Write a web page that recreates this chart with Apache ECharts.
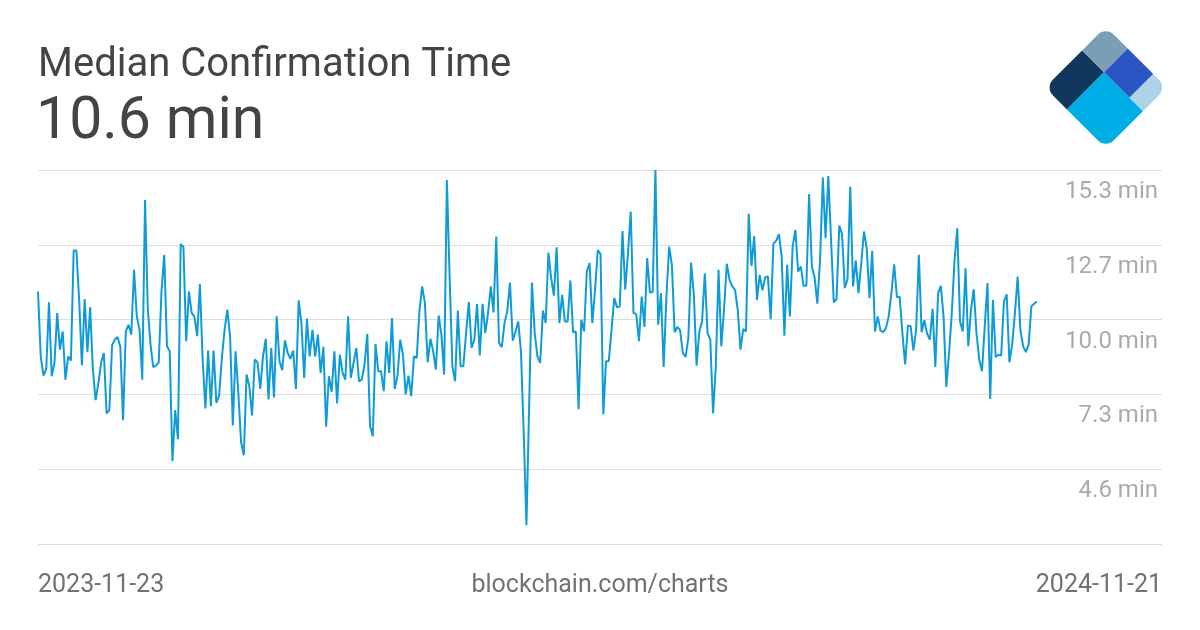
<!DOCTYPE html>
<html><head><meta charset="utf-8">
<script src="https://cdn.jsdelivr.net/npm/echarts@6/dist/echarts.min.js"></script>
<style>html,body{margin:0;padding:0;background:#fff}#c{width:1200px;height:630px}</style>
</head><body><div id="c"></div>
<script>
const chartTitle = 'Median Confirmation Time';
const currentValue = '10.6 min';
const startLabel = '2023-11-23';
const endLabel = '2024-11-21';
const sourceLabel = 'blockchain.com/charts';
const yTickLabels = ['', '4.6 min', '7.3 min', '10.0 min', '12.7 min', '15.3 min'];
// daily median confirmation time (minutes), 2023-11-23 .. 2024-11-21
const values = [
10.99, 8.67, 7.98, 8.22, 10.60, 7.96, 8.44, 10.22, 8.91, 9.56,
7.84, 8.67, 8.52, 12.45, 12.45, 10.69, 8.35, 10.72, 8.82, 10.42,
8.20, 7.11, 7.70, 8.44, 8.79, 6.63, 6.75, 9.07, 9.27, 9.36,
9.01, 6.39, 9.56, 9.80, 9.45, 11.76, 10.10, 9.62, 7.84, 14.26,
10.40, 9.09, 8.29, 8.34, 8.46, 10.99, 12.30,
9.03, 8.85, 4.93, 6.75, 5.71, 12.68, 12.57, 9.21, 10.99, 10.22,
10.10, 9.39, 11.25, 8.56, 6.81, 8.88, 6.89, 8.88, 7.01, 7.27,
8.61, 9.62, 10.34, 9.39, 6.20, 8.85, 7.37, 5.61, 5.14, 8.02,
7.61, 6.56, 8.56, 8.46, 7.51, 8.67, 9.30, 7.13, 8.97, 7.20,
10.10, 8.50, 8.18, 9.24, 8.79, 8.58,
8.88, 7.51, 10.67, 9.86, 7.90, 10.02, 8.67, 9.62, 8.67, 9.45,
8.08, 9.01, 6.16, 7.96, 7.40, 8.85, 6.99, 8.73, 8.08, 7.84,
10.10, 7.90, 8.44, 8.97, 7.78, 7.84, 8.38, 9.47, 6.18, 5.82,
9.11, 8.14, 8.14, 7.43, 9.21, 8.08, 10.04, 7.51, 7.96, 9.27,
8.73, 7.31, 7.98, 7.25, 8.67, 8.61,
10.28, 11.17, 10.57, 8.46, 9.30, 8.85, 8.20, 10.13, 9.45, 8.02,
14.97, 11.52, 8.32, 7.78, 10.31, 8.32, 8.32, 9.50, 10.61, 8.97,
9.27, 10.54, 8.70, 10.55, 9.50, 10.22, 11.17, 10.24, 12.95, 9.15,
9.00, 9.86, 10.28, 11.31, 9.23, 9.56, 9.92, 8.85, 5.94, 2.64,
7.01, 11.31, 9.50, 8.67, 8.44,
10.31, 9.86, 12.38, 11.46, 10.84, 12.57, 9.86, 10.87, 9.92, 9.92,
11.38, 9.53, 9.56, 6.78, 9.98, 9.56, 11.70, 12.00, 9.86, 11.05,
12.47, 12.32, 6.60, 8.50, 8.50, 9.62, 10.75, 10.42, 10.46, 13.15,
11.05, 12.36, 13.84, 10.22, 10.19, 9.21, 10.81, 9.72, 12.18, 10.95,
10.97, 15.33, 9.80, 10.93, 8.29, 10.81,
12.59, 11.94, 9.53, 9.72, 9.60, 8.79, 8.65, 9.33, 12.02, 10.87,
8.34, 9.56, 9.92, 11.64, 9.50, 9.27, 6.63, 8.32, 11.76, 9.03,
10.34, 11.98, 11.41, 11.17, 11.05, 10.34, 8.91, 9.65, 9.56, 13.76,
11.90, 12.97, 10.69, 11.58, 11.03, 11.50, 11.52, 10.00, 12.69, 12.80,
13.04, 12.24, 9.41, 11.94, 10.10,
12.59, 13.19, 11.70, 11.88, 11.19, 11.19, 14.47, 11.88, 11.50, 10.55,
12.12, 15.06, 12.89, 15.11, 12.83, 10.60, 10.72, 13.34, 13.04, 11.11,
11.43, 14.73, 11.17, 12.09, 10.93, 12.00, 13.13, 12.53, 10.75, 12.44,
9.56, 10.10, 9.60, 9.53, 9.68, 10.10, 10.93, 11.96, 10.79, 10.79,
9.50, 8.38, 9.77, 9.75, 8.88, 9.62,
12.30, 9.53, 9.96, 9.48, 9.27, 10.37, 8.29, 10.93, 11.19, 10.10,
7.58, 8.79, 10.22, 12.12, 13.25, 9.92, 9.56, 11.82, 9.03, 10.34,
11.07, 9.50, 8.56, 8.14, 9.74, 11.29, 7.15, 10.69, 8.65, 8.73,
8.70, 10.63, 10.89, 8.46, 9.09, 10.22, 11.52, 9.62, 9.03, 8.82,
9.09, 10.46, 10.55, 10.63
];
const DAY = 86400000;
const t0 = Date.UTC(2023, 10, 23);
const seriesData = values.map((v, i) => [t0 + i * DAY, v]);

const S = 86, R = 11;
const chart = echarts.init(document.getElementById('c'), null, {renderer: 'canvas'});
chart.setOption({
  animation: false,
  backgroundColor: '#fff',
  grid: {left: 38, right: 38, top: 170, bottom: 86, containLabel: false},
  xAxis: {
    type: 'time', min: t0, max: t0 + 409.6 * DAY, show: false
  },
  yAxis: {
    type: 'value', position: 'right', min: 1.968, max: 15.328, interval: 2.672,
    axisLine: {show: false}, axisTick: {show: false},
    splitLine: {show: true, lineStyle: {color: '#dddddd', width: 1}},
    axisLabel: {
      inside: true, margin: 4, color: '#aaaaaa', fontSize: 24, fontFamily: 'Roboto',
      verticalAlign: 'top', lineHeight: 44, hideOverlap: false, interval: 0,
      showMinLabel: true, showMaxLabel: true,
      formatter: (v, i) => yTickLabels[i] || ''
    }
  },
  series: [{
    type: 'line', data: seriesData, symbol: 'none', smooth: false,
    lineStyle: {color: '#0f9bd7', width: 2}, itemStyle: {color: '#0f9bd7'}
  }],
  graphic: [
    {type: 'text', left: 38, top: 46, style: {text: chartTitle, font: '40px Roboto', fill: '#444444'}},
    {type: 'text', left: 36, top: 94, style: {text: currentValue, font: '59px Roboto', fill: '#444444'}},
    {type: 'text', left: 38, top: 573, style: {text: startLabel, font: '25px Roboto', fill: '#727272'}},
    {type: 'text', right: 38, top: 573, style: {text: endLabel, font: '25px Roboto', fill: '#727272'}},
    {type: 'text', left: 'center', top: 573, style: {text: sourceLabel, font: '25px Roboto', fill: '#727272'}},
    {type: 'group', x: 1045, y: 87.5, rotation: Math.PI / 4, children: [
      {type: 'rect', shape: {x: 0, y: 0, width: 0.61 * S, height: 0.36 * S, r: [R, 0, 0, 0]}, style: {fill: '#12375f'}},
      {type: 'rect', shape: {x: 0.61 * S, y: 0, width: 0.39 * S, height: 0.36 * S, r: [0, R, 0, 0]}, style: {fill: '#7a9fb4'}},
      {type: 'rect', shape: {x: 0.61 * S, y: 0.36 * S, width: 0.39 * S, height: 0.42 * S, r: 0}, style: {fill: '#2b55c2'}},
      {type: 'rect', shape: {x: 0.61 * S, y: 0.78 * S, width: 0.39 * S, height: 0.22 * S, r: [0, 0, R, 0]}, style: {fill: '#acd3e6'}},
      {type: 'rect', shape: {x: 0, y: 0.36 * S, width: 0.61 * S, height: 0.64 * S, r: [0, 0, 0, R]}, style: {fill: '#00aee6'}}
    ]}
  ]
});
</script>
</body></html>
